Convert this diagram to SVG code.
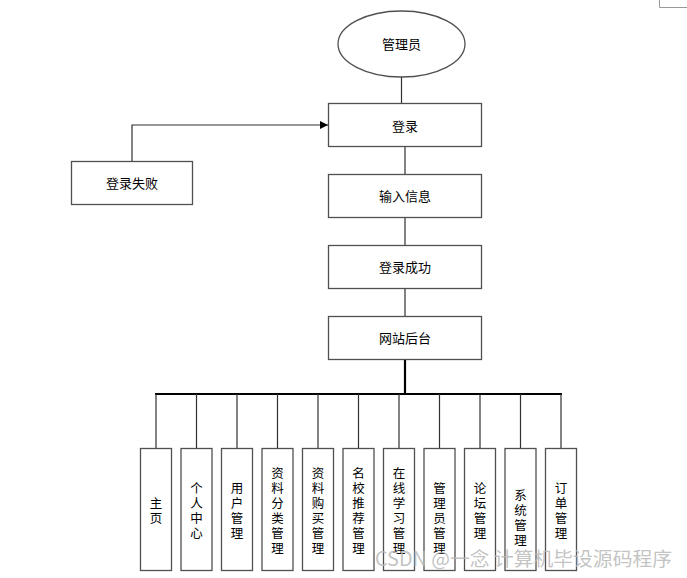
<svg xmlns="http://www.w3.org/2000/svg" width="687" height="578" viewBox="0 0 687 578">
<defs>
<style>
.n{fill:#fff;stroke:#505050;stroke-width:1.3}
.t{font-family:"Noto Sans CJK SC","Liberation Sans",sans-serif;font-size:13px;fill:#000;text-anchor:middle;dominant-baseline:central}
.v{font-family:"Noto Sans CJK SC","Liberation Sans",sans-serif;font-size:12.5px;fill:#000;text-anchor:middle;dominant-baseline:central}
.c{fill:none;stroke:#303030;stroke-width:1.2}
.k{fill:none;stroke:#000;stroke-width:2.2}
</style>
<marker id="ar" viewBox="0 0 10 10" refX="10" refY="5" markerWidth="8" markerHeight="8" markerUnits="userSpaceOnUse" orient="auto"><path d="M0,0L10,5L0,10z" fill="#000"/></marker>
</defs>
<rect width="687" height="578" fill="#fff"/>
<path d="M659.5,0V7.5H687" fill="none" stroke="#999" stroke-width="1"/>
<g id="connectors">
<path class="c" d="M401.5,77V103"/>
<path class="c" d="M405,147V174"/>
<path class="c" d="M405,218V245"/>
<path class="c" d="M405,289V316"/>
<path class="c" d="M132,161V125H328" marker-end="url(#ar)"/>
<path class="k" d="M405,360V394"/>
<path class="k" d="M155,394H562"/>
<path class="c" d="M156,394V448M196.5,394V448M237,394V448M277.5,394V448M318,394V448M358.5,394V448M399,394V448M439.5,394V448M480,394V448M520.5,394V448M561,394V448"/>
</g>
<g id="admin"><ellipse class="n" cx="401.5" cy="44" rx="63.5" ry="33"/><text class="t" x="401.5" y="43">管理员</text></g>
<g id="login"><rect class="n" x="328.5" y="103.5" width="153" height="43"/><text class="t" x="405" y="125">登录</text></g>
<g id="loginfail"><rect class="n" x="71.5" y="161.5" width="121" height="43"/><text class="t" x="132" y="182">登录失败</text></g>
<g id="input"><rect class="n" x="328.5" y="174.5" width="153" height="43"/><text class="t" x="405" y="195">输入信息</text></g>
<g id="success"><rect class="n" x="328.5" y="245.5" width="153" height="43"/><text class="t" x="405" y="266">登录成功</text></g>
<g id="backend"><rect class="n" x="328.5" y="316.5" width="153" height="43"/><text class="t" x="405" y="337">网站后台</text></g>
<g id="m1"><rect class="n" x="140.5" y="448.5" width="31" height="122"/><text class="v"><tspan x="156" y="502">主</tspan><tspan x="156" y="517">页</tspan></text></g>
<g id="m2"><rect class="n" x="181" y="448.5" width="31" height="122"/><text class="v"><tspan x="196.5" y="487">个</tspan><tspan x="196.5" y="502">人</tspan><tspan x="196.5" y="517">中</tspan><tspan x="196.5" y="532">心</tspan></text></g>
<g id="m3"><rect class="n" x="221.5" y="448.5" width="31" height="122"/><text class="v"><tspan x="237" y="487">用</tspan><tspan x="237" y="502">户</tspan><tspan x="237" y="517">管</tspan><tspan x="237" y="532">理</tspan></text></g>
<g id="m4"><rect class="n" x="262" y="448.5" width="31" height="122"/><text class="v"><tspan x="277.5" y="472">资</tspan><tspan x="277.5" y="487">料</tspan><tspan x="277.5" y="502">分</tspan><tspan x="277.5" y="517">类</tspan><tspan x="277.5" y="532">管</tspan><tspan x="277.5" y="547">理</tspan></text></g>
<g id="m5"><rect class="n" x="302.5" y="448.5" width="31" height="122"/><text class="v"><tspan x="318" y="472">资</tspan><tspan x="318" y="487">料</tspan><tspan x="318" y="502">购</tspan><tspan x="318" y="517">买</tspan><tspan x="318" y="532">管</tspan><tspan x="318" y="547">理</tspan></text></g>
<g id="m6"><rect class="n" x="343" y="448.5" width="31" height="122"/><text class="v"><tspan x="358.5" y="472">名</tspan><tspan x="358.5" y="487">校</tspan><tspan x="358.5" y="502">推</tspan><tspan x="358.5" y="517">荐</tspan><tspan x="358.5" y="532">管</tspan><tspan x="358.5" y="547">理</tspan></text></g>
<g id="m7"><rect class="n" x="383.5" y="448.5" width="31" height="122"/><text class="v"><tspan x="399" y="472">在</tspan><tspan x="399" y="487">线</tspan><tspan x="399" y="502">学</tspan><tspan x="399" y="517">习</tspan><tspan x="399" y="532">管</tspan><tspan x="399" y="547">理</tspan></text></g>
<g id="m8"><rect class="n" x="424" y="448.5" width="31" height="122"/><text class="v"><tspan x="439.5" y="487">管</tspan><tspan x="439.5" y="502">理</tspan><tspan x="439.5" y="517">员</tspan><tspan x="439.5" y="532">管</tspan><tspan x="439.5" y="547">理</tspan></text></g>
<g id="m9"><rect class="n" x="464.5" y="448.5" width="31" height="122"/><text class="v"><tspan x="480" y="487">论</tspan><tspan x="480" y="502">坛</tspan><tspan x="480" y="517">管</tspan><tspan x="480" y="532">理</tspan></text></g>
<g id="m10"><rect class="n" x="505" y="448.5" width="31" height="122"/><text class="v"><tspan x="520.5" y="494">系</tspan><tspan x="520.5" y="509">统</tspan><tspan x="520.5" y="524">管</tspan><tspan x="520.5" y="539">理</tspan></text></g>
<g id="m11"><rect class="n" x="545.5" y="448.5" width="31" height="122"/><text class="v"><tspan x="561" y="487">订</tspan><tspan x="561" y="502">单</tspan><tspan x="561" y="517">管</tspan><tspan x="561" y="532">理</tspan></text></g>
<text x="375" y="566" textLength="297" lengthAdjust="spacingAndGlyphs" font-family="Noto Sans CJK SC,Liberation Sans,sans-serif" font-size="19.5" fill="#b8b8b8" fill-opacity="0.85">CSDN @一念 计算机毕设源码程序</text>
</svg>
